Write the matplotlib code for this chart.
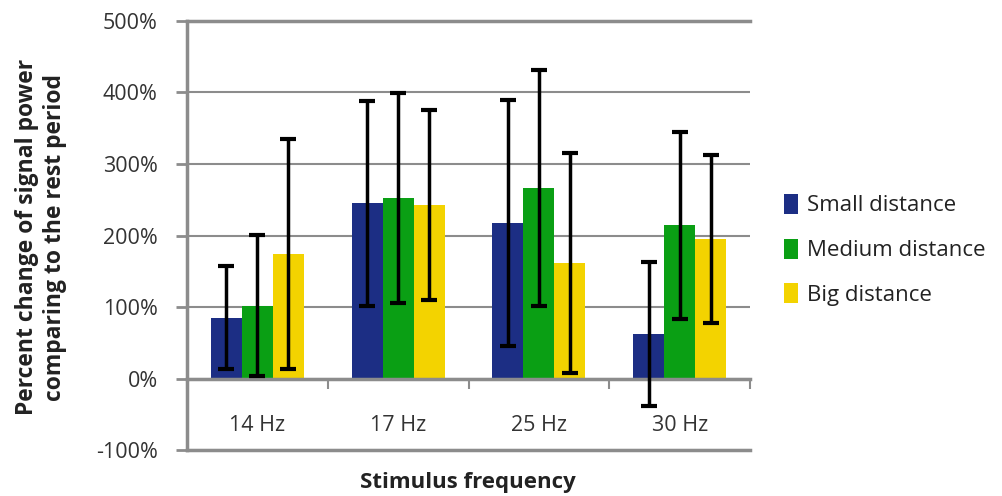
import matplotlib.pyplot as plt
import numpy as np

plt.rcParams['font.family'] = ['Open Sans', 'DejaVu Sans']

# data (percent change)
freqs = ['14 Hz', '17 Hz', '25 Hz', '30 Hz']
series = ['Small distance', 'Medium distance', 'Big distance']
small = [85, 245, 217, 62]
medium = [102, 252, 267, 214]
big = [174, 243, 162, 195]
small_err = [72, 143, 172, 101]
medium_err = [99, 147, 165, 131]
big_err = [161, 133, 154, 117]

values = [small, medium, big]
errors = [small_err, medium_err, big_err]
colors = ['#1C2E84', '#0A9F14', '#F3D300']

fig = plt.figure(figsize=(10.03, 4.96), dpi=100)
ax = fig.add_axes([0.1864, 0.0927, 0.5614, 0.865])

x = np.arange(len(freqs))
w = 0.22
for i, (vals, errs, col) in enumerate(zip(values, errors, colors)):
    pos = x + (i - 1) * w
    ax.bar(pos, vals, width=w, color=col, label=series[i], zorder=2)
    ax.errorbar(pos, vals, yerr=errs, fmt='none', ecolor='black',
                elinewidth=2.5, capsize=6, capthick=3, zorder=3)

grid_col = '#8c8c8c'
ax.set_xlim(-0.5, len(freqs) - 0.5)
ax.set_ylim(-100, 500)
ax.set_yticks(np.arange(-100, 501, 100))
ax.set_yticklabels([f'{v}%' for v in range(-100, 501, 100)])
ax.yaxis.grid(True, color=grid_col, linewidth=1.5, zorder=0)
ax.set_axisbelow(True)
ax.axhline(-100, color=grid_col, linewidth=2.5, clip_on=False, zorder=1)

ax.spines['right'].set_visible(False)
ax.spines['top'].set_color(grid_col)
ax.spines['top'].set_linewidth(2.5)
ax.spines['left'].set_color(grid_col)
ax.spines['left'].set_linewidth(2.5)
ax.spines['bottom'].set_position(('data', 0))
ax.spines['bottom'].set_color(grid_col)
ax.spines['bottom'].set_linewidth(2.5)

ax.set_xticks(x)
ax.set_xticklabels(freqs)
ax.set_xticks(np.arange(len(freqs) + 1) - 0.5, minor=True)
ax.tick_params(axis='x', which='major', length=0, pad=26, labelsize=15.5, labelcolor='#333333')
ax.tick_params(axis='x', which='minor', length=7, width=1.5, color=grid_col, direction='out')
ax.tick_params(axis='y', length=8, width=2, color=grid_col, pad=13, labelsize=15.5,
               labelcolor='#333333')

fig.text(0.466, 0.028, 'Stimulus frequency', ha='center', va='center',
         fontsize=16, fontweight='bold', color='#222222')
fig.text(0.041, 0.522, 'Percent change of signal power\ncomparing to the rest period',
         ha='center', va='center', rotation=90, fontsize=16.5, fontweight='bold',
         color='#222222', linespacing=1.25)

ax.legend(loc='center left', bbox_to_anchor=(0.762, 0.496), bbox_transform=fig.transFigure,
          frameon=False, fontsize=16, handlelength=0.6, handleheight=1.0,
          handletextpad=0.4, labelspacing=1.0, labelcolor='#222222')

fig.savefig('out.png', dpi=100)
